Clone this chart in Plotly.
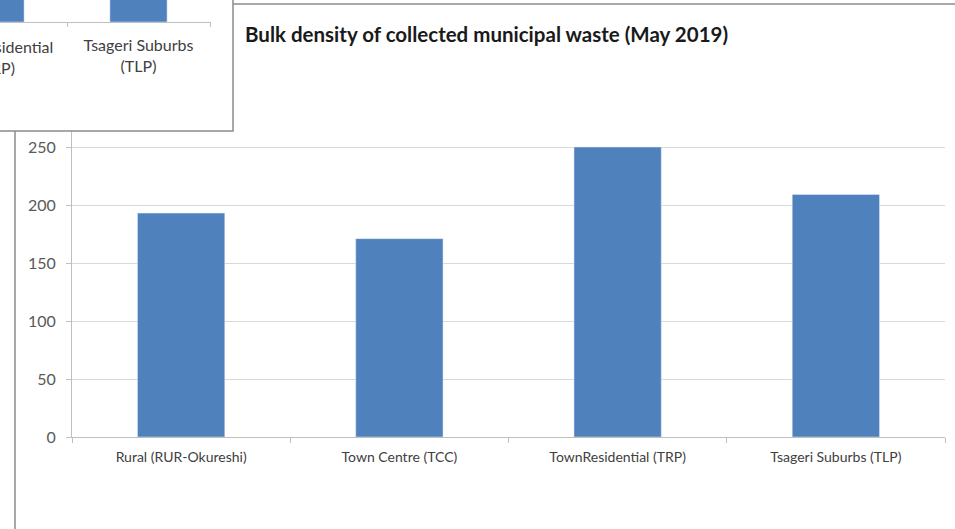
import plotly.graph_objects as go

# Collection zones and their measured bulk density (May 2019)
categories = [
    "Rural (RUR-Okureshi)",
    "Town Centre (TCC)",
    "TownResidential (TRP)",
    "Tsageri Suburbs (TLP)",
]
density = [193, 171, 250, 209]

# Wrapped labels used by the smaller chart lying on top
inset_categories = [
    "Rural<br>(RUR-Okureshi)",
    "Town Centre<br>(TCC)",
    "TownResidential<br>(TRP)",
    "Tsageri Suburbs<br>(TLP)",
]

y_ticks = [0, 50, 100, 150, 200, 250, 300]
title_text = "Bulk density of collected municipal waste (May 2019)"

W, H = 955, 529
BAR = "#4f81bd"
GRID = "#d9d9d9"
AXIS = "#bfbfbf"
FRAME = "#8c8c8c"
FONT = "Lato"


def px_x(p):
    return p / W


def px_y(p):
    return 1 - p / H


fig = go.Figure()

# Main chart
fig.add_trace(go.Bar(
    x=categories, y=density, marker_color=BAR, width=0.4,
    xaxis="x", yaxis="y", hoverinfo="x+y", showlegend=False,
))

# Empty subplot that carries the white card of the overlapping chart
fig.add_trace(go.Scatter(
    x=[], y=[], xaxis="x2", yaxis="y2", hoverinfo="skip", showlegend=False,
))

# Overlapping smaller chart (only its lower-right corner is visible)
fig.add_trace(go.Bar(
    x=inset_categories, y=density, marker_color=BAR, width=0.4,
    xaxis="x3", yaxis="y3", hoverinfo="x+y", showlegend=False,
))

fig.update_layout(
    width=W, height=H, autosize=False,
    margin=dict(l=0, r=0, t=0, b=0, pad=0),
    paper_bgcolor="white", plot_bgcolor="rgba(0,0,0,0)",
    font=dict(family=FONT, color="#595959"),
    title=dict(
        text=title_text, xref="paper", yref="paper",
        x=px_x(245), y=px_y(35), xanchor="left", yanchor="middle",
        font=dict(family=FONT, size=20.5, color="#1a1a1a", weight="bold"),
    ),
    xaxis=dict(
        domain=[px_x(72), px_x(945)], anchor="y",
        type="category", categoryarray=categories,
        range=[-0.5, 3.5], fixedrange=True,
        showline=True, linecolor=AXIS, linewidth=1,
        ticks="outside", tickson="boundaries", ticklen=5, tickcolor=AXIS,
        showgrid=False, automargin=False,
        tickfont=dict(family=FONT, size=14, color="#404040"),
        ticklabelstandoff=7,
    ),
    yaxis=dict(
        domain=[px_y(437), px_y(89)], anchor="x",
        range=[0, 300], tickvals=y_ticks, fixedrange=True,
        showline=True, linecolor=AXIS, linewidth=1,
        ticks="outside", ticklen=5, tickcolor=AXIS,
        showgrid=True, gridcolor=GRID, gridwidth=1.3,
        zeroline=False, automargin=False,
        tickfont=dict(family=FONT, size=16, color="#595959"),
        ticklabelstandoff=7,
    ),
    xaxis2=dict(
        domain=[0, px_x(236)], anchor="y2", range=[0, 236],
        visible=False, fixedrange=True,
    ),
    yaxis2=dict(
        domain=[px_y(134), 1], anchor="x2", range=[134, 0],
        visible=False, fixedrange=True,
    ),
    xaxis3=dict(
        domain=[0, px_x(211)], anchor="y3",
        type="category", categoryarray=inset_categories,
        range=[2.0315, 3.507], fixedrange=True,
        showline=True, linecolor=AXIS, linewidth=1.3,
        ticks="outside", tickson="boundaries", ticklen=4, tickcolor=AXIS,
        showgrid=False, automargin=False,
        tickfont=dict(family=FONT, size=16, color="#404040"),
        ticklabelstandoff=9,
    ),
    yaxis3=dict(
        domain=[px_y(22), 1], anchor="x3", range=[0, 29],
        visible=False, fixedrange=True,
    ),
)

# Outer frame of the main chart
fig.add_shape(
    type="rect", xref="paper", yref="paper", layer="below",
    x0=px_x(15), x1=1.05, y0=-0.05, y1=px_y(4),
    line=dict(color=FRAME, width=1.5), fillcolor="white",
)

# White card of the overlapping chart, drawn in its own subplot so it sits
# above the main chart and below the smaller chart's bars
fig.add_shape(
    type="rect", xref="x2", yref="y2", layer="below",
    x0=-5, x1=233, y0=-5, y1=131,
    line=dict(color=FRAME, width=1.5), fillcolor="white",
)

# Label of the partially visible category of the smaller chart
fig.add_annotation(
    xref="paper", yref="paper", x=px_x(-4.5), y=px_y(35),
    xanchor="center", yanchor="top", showarrow=False,
    text=inset_categories[2], align="center",
    font=dict(family=FONT, size=16, color="#404040"),
)

fig.write_html("out.html")
